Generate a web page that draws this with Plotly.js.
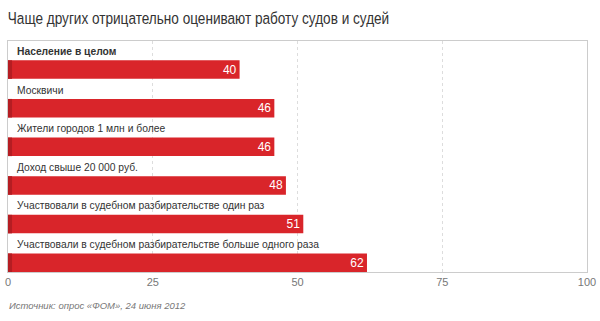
<!DOCTYPE html>
<html>
<head>
<meta charset="utf-8">
<script src="https://cdn.plot.ly/plotly-3.0.1.min.js"></script>
<style>html,body{margin:0;padding:0;background:#fff;}#chart{width:600px;height:321px;}</style>
</head>
<body>
<div id="chart"></div>
<script>
const categories = [
  "Население в целом",
  "Москвичи",
  "Жители городов 1 млн и более",
  "Доход свыше 20 000 руб.",
  "Участвовали в судебном разбирательстве один раз",
  "Участвовали в судебном разбирательстве больше одного раза"
];
const values = [40, 46, 46, 48, 51, 62];
const valueLabels = ["40", "46", "46", "48", "51", "62"];
const tickValues = [0, 25, 50, 75, 100];
const tickLabels = ["0", "25", "50", "75", "100"];
const titleText = "Чаще других отрицательно оценивают работу судов и судей";
const sourceText = "Источник: опрос «ФОМ», 24 июня 2012";

const idx = categories.map((c, i) => i);
const FONT = "Liberation Sans, Arial, sans-serif";

const barTrace = {
  type: "bar",
  orientation: "h",
  x: values,
  y: idx,
  width: 0.48,
  marker: {color: "#d9252a", line: {width: 0}},
  text: valueLabels,
  textposition: "inside",
  insidetextanchor: "end",
  textangle: 0,
  constraintext: "none",
  textfont: {family: FONT, size: 12, color: "#ffffff"},
  hoverinfo: "skip"
};
const stripeTrace = {
  type: "bar",
  orientation: "h",
  x: values.map(() => 0.7),
  y: idx,
  width: 0.48,
  marker: {color: "#b51d22", line: {width: 0}},
  hoverinfo: "skip",
  textposition: "none"
};

const annotations = categories.map((c, i) => ({
  xref: "paper", yref: "y",
  x: 0.012, y: i - 0.47,
  xanchor: "left", yanchor: "middle",
  text: i === 0 ? "<b>" + c + "</b>" : c,
  showarrow: false,
  font: {family: FONT, size: 10.3, color: "#333333"}
}));
annotations.push({
  xref: "paper", yref: "paper",
  x: -0.001, y: -0.145,
  xanchor: "left", yanchor: "middle",
  text: "<i>" + sourceText + "</i>",
  showarrow: false,
  font: {family: FONT, size: 9.5, color: "#777777"}
});

const layout = {
  width: 600, height: 321,
  margin: {l: 8, r: 13, t: 41, b: 49, pad: 0},
  paper_bgcolor: "#ffffff",
  plot_bgcolor: "#ffffff",
  title: {
    text: titleText,
    x: 0.013, xanchor: "left",
    y: 0.945, yanchor: "middle",
    font: {family: FONT, size: 17, color: "#333333"}
  },
  showlegend: false,
  barmode: "overlay",
  xaxis: {
    range: [0, 100],
    tickvals: tickValues,
    ticktext: tickLabels,
    showgrid: true,
    gridcolor: "#dddddd",
    griddash: "dot",
    gridwidth: 1,
    zeroline: false,
    showline: true,
    mirror: true,
    linecolor: "#cccccc",
    linewidth: 1,
    ticks: "",
    tickfont: {family: FONT, size: 11, color: "#777777"},
    fixedrange: true
  },
  yaxis: {
    range: [5.24, -0.74],
    showticklabels: false,
    showgrid: false,
    zeroline: false,
    showline: true,
    mirror: true,
    linecolor: "#cccccc",
    linewidth: 1,
    ticks: "",
    fixedrange: true
  },
  annotations: annotations
};

Plotly.newPlot("chart", [barTrace, stripeTrace], layout, {displayModeBar: false, staticPlot: true}).then(function (gd) {
  // condense the title horizontally to mimic the narrow headline face
  const t = gd.querySelector(".gtitle");
  if (t) {
    const x = parseFloat(t.getAttribute("x")) || 8;
    t.setAttribute("transform", "translate(" + x + ",0) scale(0.8,1) translate(" + (-x) + ",0)");
  }
});
</script>
</body>
</html>
